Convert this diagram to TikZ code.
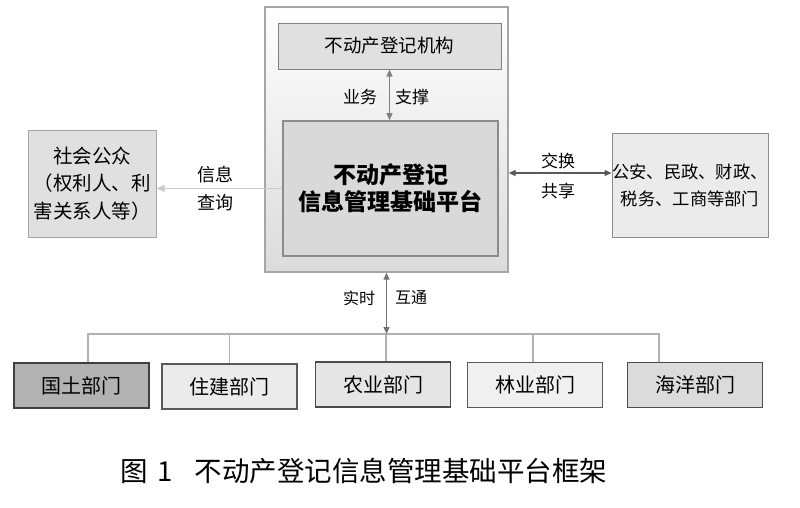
\documentclass[tikz,border=0pt]{standalone}
\usepackage{fontspec}
\setmainfont{Noto Sans CJK SC}
\usetikzlibrary{arrows.meta, positioning, calc}

\begin{document}
\begin{tikzpicture}[
        x=1pt, y=-1pt,
        box/.style={rectangle, draw=black!45, line width=1pt, inner sep=0pt, align=center},
        dept/.style={box, minimum width=135pt, minimum height=45pt, line width=1.3pt, font=\fontsize{20}{24}\selectfont},
        lbl/.style={inner sep=0pt, font=\fontsize{17}{20}\selectfont},
        link/.style={draw=black!55, line width=1.3pt, {Triangle[length=7pt,width=6pt]}-{Triangle[length=7pt,width=6pt]}},
        busline/.style={draw=black!30, line width=1.2pt}
    ]
        \useasboundingbox (0,0) rectangle (800,507);
        % platform container
        \node[box, draw=black!35, line width=1.3pt, top color=white, bottom color=black!14, minimum width=243pt, minimum height=265pt] (outer) at (386.5,139.5) {};
        \node[box, fill=black!12, draw=black!50, minimum width=223pt, minimum height=46pt, font=\fontsize{18.5}{22}\selectfont] (org) at (389.5,46) {不动产登记机构};
        \node[box, fill=black!15, line width=1.6pt, minimum width=215pt, minimum height=135pt, font=\bfseries\fontsize{23}{30}\selectfont] (platform) at (390.5,188.5) {不动产登记\\[-3pt]信息管理基础平台};
        \draw[link, draw=black!50] (org.south) -- (org.south |- platform.north);
        \node[lbl] at (360,97) {业务};
        \node[lbl] at (412,97) {支撑};

        % outside parties
        \node[box, fill=black!12, draw=black!35, minimum width=128pt, minimum height=107pt, font=\fontsize{19.5}{27.5}\selectfont] (public) at (92,183.5) {社会公众\\（权利人、利\\害关系人等）};
        \node[box, fill=black!8, draw=black!45, minimum width=156pt, minimum height=104pt, font=\fontsize{17.3}{27}\selectfont] (agency) at (690,185) {公安、民政、财政、\\税务、工商等部门};
        \draw[draw=black!20, line width=1.6pt, -{Triangle[length=8pt,width=7pt]}] (platform.west) -- (platform.west -| public.east);
        \node[lbl, font=\fontsize{18}{20}\selectfont] at (215,175) {信息};
        \node[lbl, font=\fontsize{18}{20}\selectfont] at (215,203) {查询};
        \coordinate (xchg) at (560,173);
        \draw[link, draw=black!65] (xchg -| outer.east) -- (xchg -| agency.west);
        \node[lbl] at (558,161) {交换};
        \node[lbl] at (558,191) {共享};

        % departments
        \node[dept, fill=black!30, draw=black!75] (guotu) at (81.5,385.5) {国土部门};
        \node[dept, fill=black!8, draw=black!65] (zhujian) at (229.5,386.5) {住建部门};
        \node[dept, fill=black!10, draw=black!70] (nongye) at (383,384.5) {农业部门};
        \node[dept, fill=black!6, draw=black!65] (linye) at (535,385) {林业部门};
        \node[dept, fill=black!14, draw=black!70] (haiyang) at (695,385) {海洋部门};
        \coordinate (bus) at (386,334);
        \draw[busline] ([xshift=6.5pt]guotu.north) |- (bus) -| ([xshift=-36pt]haiyang.north);
        \draw[busline] (zhujian.north) -- (zhujian.north |- bus);
        \draw[busline] (nongye.north -| bus) -- (bus);
        \draw[busline] ([xshift=-2pt]linye.north) -- ([xshift=-2pt]linye.north |- bus);
        \draw[link] (outer.south) -- (outer.south |- bus);
        \node[lbl, font=\fontsize{16}{20}\selectfont] at (359,298) {实时};
        \node[lbl, font=\fontsize{16}{20}\selectfont] at (411,298) {互通};

        % caption
        \node[inner sep=0pt, anchor=west, font=\fontsize{27.5}{30}\selectfont] (caption) at (120,471) {图\hspace{10pt}1\hspace{22pt}不动产登记信息管理基础平台框架};
    \end{tikzpicture}
\end{document}
